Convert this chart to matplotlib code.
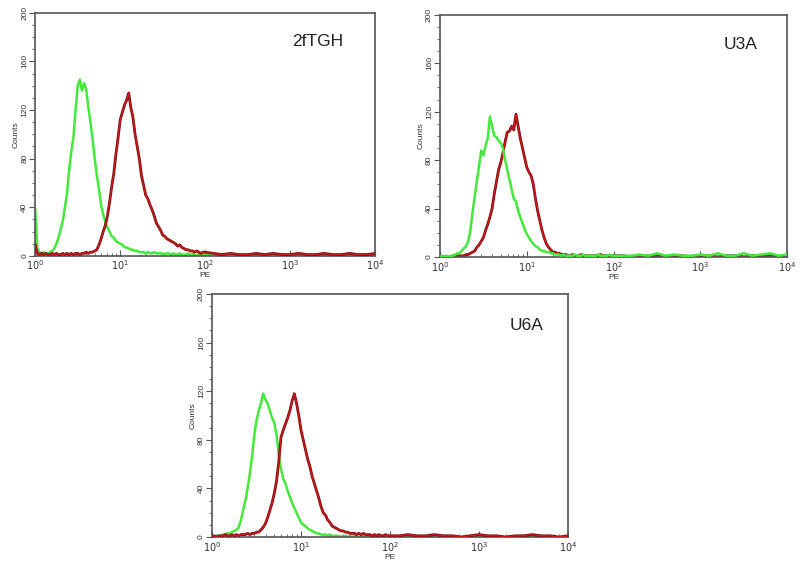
import numpy as np
import matplotlib
matplotlib.use("Agg")
import matplotlib.pyplot as plt
from matplotlib.ticker import MultipleLocator, LogLocator, NullFormatter

plt.rcParams["font.family"] = ["Liberation Sans", "DejaVu Sans"]

# -------------------------
# Data (counts)
# channel bins in log10(PE): 0..2 every 0.025, then 2.1..4.0 every 0.1
# -------------------------
log_pe = np.round(np.r_[np.arange(0, 2.0001, 0.025), np.arange(2.1, 4.0001, 0.1)], 3)

tl_green = [38, 6, 3, 2, 3, 2, 2, 3, 4, 6,
            10, 15, 22, 29, 40, 52, 71, 86, 98, 120,
            140, 145, 136, 142, 137, 122, 110, 96, 80, 66,
            55, 42, 34, 28, 23, 20, 16, 15, 12, 11,
            10, 9, 7, 7, 6, 5, 5, 4, 4, 3,
            3, 3, 2, 3, 2, 2, 3, 2, 2, 2,
            2, 1, 2, 2, 1, 2, 1, 1, 2, 1,
            1, 1, 2, 1, 1, 1, 0, 1, 1, 0,
            1,
            0, 1, 0, 0, 1, 0, 0, 0, 1, 0, 0, 0, 0, 1, 0, 0, 0, 0, 1, 0]
tl_red = [9, 2, 1, 2, 1, 2, 1, 1, 2, 1,
          2, 1, 1, 2, 1, 2, 1, 2, 1, 2,
          2, 1, 2, 2, 3, 2, 3, 3, 4, 5,
          9, 14, 20, 25, 33, 44, 57, 68, 84, 97,
          112, 118, 124, 128, 134, 122, 114, 100, 90, 80,
          66, 58, 50, 47, 42, 38, 33, 27, 24, 21,
          17, 16, 14, 13, 12, 11, 10, 8, 9, 7,
          6, 5, 5, 4, 4, 3, 4, 3, 2, 3,
          3,
          2, 1, 2, 1, 1, 2, 1, 2, 1, 1, 2, 1, 1, 2, 1, 1, 2, 1, 1, 2]

tr_green = [0, 1, 0, 1, 0, 1, 1, 2, 3, 3,
            5, 7, 9, 13, 22, 37, 50, 63, 75, 88,
            84, 92, 98, 116, 108, 100, 99, 96, 94, 90,
            80, 72, 64, 56, 48, 46, 38, 33, 28, 23,
            19, 16, 13, 11, 9, 8, 6, 5, 5, 4,
            4, 3, 3, 2, 2, 2, 1, 2, 1, 1,
            1, 1, 2, 1, 1, 1, 2, 1, 1, 1,
            1, 1, 1, 2, 1, 1, 1, 1, 2, 1,
            1,
            1, 1, 2, 1, 3, 1, 2, 1, 1, 2, 1, 3, 1, 1, 3, 1, 2, 3, 1, 2]
tr_red = [0, 0, 0, 0, 0, 0, 1, 0, 1, 1,
          1, 1, 2, 2, 3, 4, 5, 8, 10, 13,
          16, 22, 27, 33, 40, 52, 62, 72, 78, 86,
          95, 103, 104, 108, 105, 118, 108, 98, 90, 82,
          74, 70, 67, 60, 48, 38, 30, 22, 16, 11,
          8, 6, 4, 4, 3, 3, 2, 2, 2, 1,
          1, 2, 1, 1, 1, 2, 1, 1, 1, 1,
          1, 1, 1, 1, 2, 1, 1, 1, 1, 1,
          1,
          1, 0, 1, 1, 1, 0, 1, 1, 0, 1, 1, 0, 1, 1, 0, 1, 1, 1, 0, 1]

bt_green = [0, 0, 1, 1, 1, 2, 2, 3, 3, 4,
            5, 6, 8, 14, 22, 30, 40, 52, 66, 84,
            96, 104, 110, 118, 113, 110, 104, 98, 94, 84,
            68, 56, 48, 44, 38, 33, 28, 24, 20, 16,
            12, 10, 9, 7, 6, 5, 4, 3, 3, 2,
            2, 2, 1, 2, 1, 1, 1, 1, 0, 1,
            1, 0, 1, 0, 1, 0, 0, 1, 0, 0,
            0, 0, 1, 0, 0, 0, 0, 0, 0, 0,
            0,
            0, 0, 0, 0, 0, 0, 0, 0, 0, 0, 0, 0, 0, 0, 0, 0, 0, 0, 0, 0]
bt_red = [1, 1, 0, 1, 1, 1, 2, 1, 1, 2,
          1, 2, 1, 2, 2, 2, 3, 2, 3, 3,
          4, 4, 6, 8, 11, 16, 22, 28, 36, 46,
          62, 82, 88, 93, 98, 104, 112, 118, 110, 100,
          88, 80, 72, 64, 58, 50, 44, 38, 32, 25,
          20, 18, 14, 12, 9, 8, 7, 6, 5, 5,
          4, 4, 3, 3, 3, 2, 3, 2, 3, 2,
          2, 2, 1, 2, 1, 2, 1, 1, 2, 1,
          1,
          1, 2, 1, 1, 2, 1, 1, 0, 1, 2, 1, 1, 0, 1, 1, 2, 1, 1, 0, 1]

panel_names = ["2fTGH", "U3A", "U6A"]
y_ticks = [0, 40, 80, 120, 160, 200]

GREEN = "#45e83c"
RED_EDGE = "#7e0c10"
RED = "#cc1a1e"

pe = 10 ** log_pe

fig = plt.figure(figsize=(8, 5.71), dpi=100)

# [left, bottom, width, height], green-on-top flag, name position
panels = [
    ([0.044, 0.552, 0.425, 0.4256], tl_green, tl_red, False, (0.83, 0.88)),
    ([0.550, 0.550, 0.434, 0.424], tr_green, tr_red, True, (0.865, 0.876)),
    ([0.265, 0.0595, 0.445, 0.4256], bt_green, bt_red, False, (0.885, 0.872)),
]

for (rect, g, r, green_top, txt_pos), name in zip(panels, panel_names):
    ax = fig.add_axes(rect)
    zg = 4 if green_top else 2
    zr = 2 if green_top else 3
    ax.plot(pe, g, color=GREEN, lw=1.8, zorder=zg)
    # red trace drawn as dark outline + brighter core, like the scan
    ax.plot(pe, r, color=RED_EDGE, lw=2.0, zorder=zr)
    ax.plot(pe, r, color=RED, lw=0.9, zorder=zr + 0.1)

    ax.set_xscale("log")
    ax.set_xlim(1, 1e4)
    ax.set_ylim(0, 200)

    ax.set_yticks(y_ticks)
    ax.set_yticklabels([str(v) for v in y_ticks], rotation=90, va="center",
                       fontsize=6, color="#333333")
    ax.yaxis.set_minor_locator(MultipleLocator(10))
    ax.set_xticks([1, 10, 100, 1000, 10000])
    ax.set_xticklabels([r"$10^{0}$", r"$10^{1}$", r"$10^{2}$", r"$10^{3}$",
                        r"$10^{4}$"], fontsize=7, color="#333333")
    ax.xaxis.set_minor_locator(LogLocator(base=10, subs=np.arange(2, 10)))
    ax.xaxis.set_minor_formatter(NullFormatter())

    ax.tick_params(axis="y", which="major", direction="out", length=4,
                   width=0.8, pad=1, colors="#555555", labelcolor="#333333")
    ax.tick_params(axis="y", which="minor", direction="out", length=2,
                   width=0.6, colors="#555555")
    ax.tick_params(axis="x", which="major", direction="in", length=4,
                   width=0.8, pad=2, colors="#555555", labelcolor="#333333")
    ax.tick_params(axis="x", which="minor", direction="in", length=2.5,
                   width=0.6, colors="#555555")

    for s in ax.spines.values():
        s.set_color("#555555")
        s.set_linewidth(1.2)

    ax.set_xlabel("PE", fontsize=6, labelpad=0, color="#333333")
    ax.set_ylabel("Counts", fontsize=6, labelpad=1, color="#333333")

    ax.text(txt_pos[0], txt_pos[1], name, transform=ax.transAxes,
            fontsize=12.5, ha="center", va="center", color="#222222")

fig.savefig("out.png", dpi=100)
